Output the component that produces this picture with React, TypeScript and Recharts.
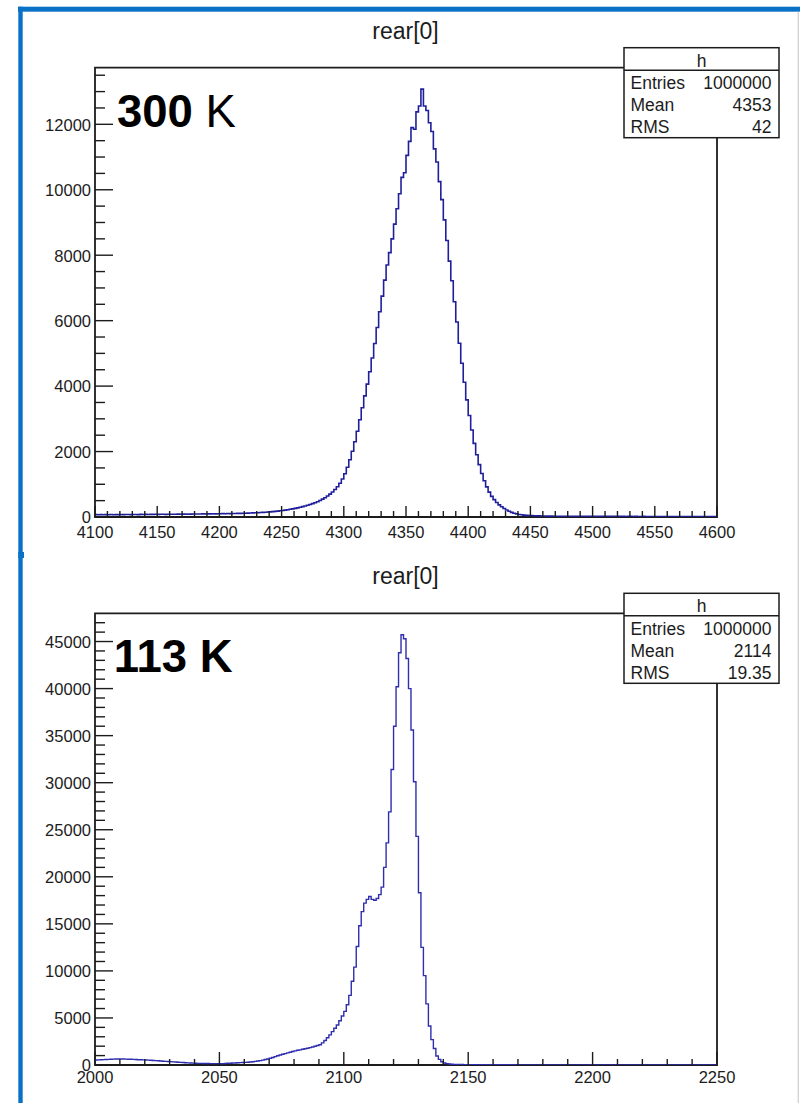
import React from 'react';
import { LineChart, Line, XAxis, YAxis, ReferenceArea } from 'recharts';

// ---- 300 K run: 250 bins of width 2 from 4100 to 4600 ----
const TOP_BIN_LOW = 4100;
const TOP_BIN_WIDTH = 2;
const TOP_COUNTS = [
  72, 68, 74, 70, 73, 69, 75, 71, 74, 72,
  76, 73, 77, 75, 72, 78, 76, 74, 79, 77,
  80, 78, 81, 79, 83, 80, 82, 84, 81, 85,
  83, 86, 84, 88, 85, 87, 90, 86, 89, 91,
  90, 93, 91, 95, 92, 96, 94, 98, 97, 99,
  100, 103, 101, 105, 104, 108, 107, 111, 110, 114,
  116, 119, 121, 125, 128, 132, 136, 141, 146, 152,
  158, 165, 172, 180, 189, 199, 210, 222, 235, 249,
  264, 280, 297, 316, 336, 358, 382, 408, 437, 468,
  505, 545, 590, 640, 700, 765, 840, 925, 1030, 1160,
  1320, 1520, 1750, 2010, 2300, 2620, 2970, 3340, 3700, 4060,
  4440, 4860, 5300, 5790, 6270, 6750, 7240, 7700, 8080, 8500,
  8950, 9420, 9880, 10380, 10520, 11050, 11480, 11900, 11850, 12380,
  12560, 13076, 12560, 12420, 12050, 11780, 11250, 10850, 10250, 9700,
  9080, 8450, 7820, 7220, 6580, 5960, 5310, 4700, 4120, 3580,
  3100, 2660, 2250, 1900, 1600, 1330, 1110, 920, 760, 630,
  530, 445, 370, 315, 262, 215, 175, 142, 115, 95,
  78, 67, 58, 51, 45, 41, 38, 35, 33, 31,
  30, 29, 27, 26, 25, 25, 24, 24, 23, 23,
  22, 22, 22, 21, 21, 21, 20, 21, 20, 20,
  19, 20, 19, 19, 20, 19, 18, 19, 19, 18,
  18, 19, 18, 17, 18, 18, 17, 18, 17, 17,
  18, 17, 16, 17, 17, 16, 17, 16, 16, 17,
  16, 15, 16, 16, 15, 16, 15, 15, 16, 15,
  14, 15, 15, 14, 15, 14, 14, 15, 14, 14,
];
const TOP_X_LABELS = [4100, 4150, 4200, 4250, 4300, 4350, 4400, 4450, 4500, 4550, 4600];
const TOP_Y_LABELS = [0, 2000, 4000, 6000, 8000, 10000, 12000];
const TOP_Y_MAX = 13730;

// ---- 113 K run: 250 bins of width 1 from 2000 to 2250 ----
const BOTTOM_BIN_LOW = 2000;
const BOTTOM_BIN_WIDTH = 1;
const BOTTOM_COUNTS = [
  530, 545, 560, 575, 590, 600, 610, 620, 630, 640,
  640, 635, 625, 615, 605, 595, 580, 565, 555, 540,
  530, 515, 500, 480, 465, 445, 425, 405, 390, 370,
  354, 335, 315, 295, 280, 260, 240, 225, 210, 195,
  180, 175, 170, 165, 160, 155, 150, 148, 145, 142,
  140, 150, 165, 180, 190, 205, 220, 235, 250, 265,
  280, 300, 320, 350, 385, 425, 470, 520, 580, 640,
  710, 800, 890, 980, 1060, 1135, 1210, 1290, 1360, 1430,
  1500, 1560, 1610, 1670, 1720, 1780, 1850, 1920, 2000, 2080,
  2150, 2350, 2600, 2900, 3200, 3550, 3900, 4250, 4700, 5200,
  5700, 6400, 7400, 8900, 10400, 12600, 14800, 16300, 17200, 17600,
  17900, 17600, 17500, 17700, 18100, 18900, 21000, 23600, 26900, 31400,
  36000, 40200, 43800, 45714, 45300, 43200, 40000, 35600, 30100, 24300,
  18300, 12500, 9500, 6500, 4150, 2700, 1750, 950, 600, 350,
  220, 150, 110, 85, 70, 60, 52, 46, 42, 38,
  35, 33, 31, 30, 28, 27, 26, 25, 24, 24,
  23, 22, 22, 21, 21, 20, 20, 19, 19, 18,
  18, 18, 17, 17, 17, 16, 16, 16, 15, 15,
  15, 14, 14, 14, 14, 13, 13, 13, 13, 12,
  12, 12, 12, 12, 11, 11, 11, 11, 11, 10,
  10, 10, 10, 10, 10, 9, 9, 9, 9, 9,
  9, 9, 8, 8, 8, 8, 8, 8, 8, 7,
  7, 7, 7, 7, 7, 7, 7, 6, 6, 6,
  6, 6, 6, 6, 6, 6, 5, 5, 5, 5,
  5, 5, 5, 5, 5, 5, 5, 4, 4, 4,
];
const BOTTOM_X_LABELS = [2000, 2050, 2100, 2150, 2200, 2250];
const BOTTOM_Y_LABELS = [0, 5000, 10000, 15000, 20000, 25000, 30000, 35000, 40000, 45000];
const BOTTOM_Y_MAX = 48000;

// Statistics box rows
const TOP_STATS: [string, string][] = [['Entries', '1000000'], ['Mean', '4353'], ['RMS', '42']];
const BOTTOM_STATS: [string, string][] = [['Entries', '1000000'], ['Mean', '2114'], ['RMS', '19.35']];

const FONT = '"Liberation Sans", Arial, Helvetica, sans-serif';
const INK = '#1c1c1c';
const FRAME_BLUE = '#0a72c6';

// Histogram outline: one point per bin low edge, plus the closing upper edge.
function stepPoints(low: number, width: number, counts: number[]) {
  const pts = counts.map((c, i) => ({ x: low + i * width, y: c }));
  pts.push({ x: low + counts.length * width, y: counts[counts.length - 1] });
  return pts;
}

function tickRange(from: number, to: number, step: number) {
  const out: number[] = [];
  for (let v = from; v <= to + 1e-9; v += step) out.push(Math.round(v * 1000) / 1000);
  return out;
}

function makeXTick(labels: number[], majorLen: number, minorLen: number, labelDy: number) {
  return (props: any) => {
    const { x, y, payload } = props;
    const v = payload.value;
    const major = labels.includes(v);
    return (
      <g>
        <line x1={x} y1={y} x2={x} y2={y - (major ? majorLen : minorLen)} stroke={INK} strokeWidth={1.4} />
        {major && (
          <text x={x} y={y + labelDy} textAnchor="middle" fontSize={16.5} fontFamily={FONT} fill={INK}>
            {v}
          </text>
        )}
      </g>
    );
  };
}

function makeYTick(labels: number[], majorLen: number, minorLen: number) {
  return (props: any) => {
    const { x, y, payload } = props;
    const v = payload.value;
    const major = labels.includes(v);
    return (
      <g>
        <line x1={x} y1={y} x2={x + (major ? majorLen : minorLen)} y2={y} stroke={INK} strokeWidth={1.4} />
        {major && (
          <text x={x - 4} y={y + 6.3} textAnchor="end" fontSize={16.5} fontFamily={FONT} fill={INK}>
            {v}
          </text>
        )}
      </g>
    );
  };
}

type PanelProps = {
  top: number;
  height: number;
  marginTop: number;
  marginBottom: number;
  data: { x: number; y: number }[];
  xDomain: [number, number];
  yMax: number;
  xTicks: number[];
  yTicks: number[];
  xLabels: number[];
  yLabels: number[];
  xMajorLen: number;
  xLabelDy: number;
  stroke: string;
  strokeWidth: number;
};

function Panel(p: PanelProps) {
  return (
    <div style={{ position: 'absolute', left: 0, top: p.top, width: 800, height: p.height }}>
      <LineChart
        width={800}
        height={p.height}
        data={p.data}
        margin={{ top: p.marginTop, right: 83, bottom: p.marginBottom, left: 35 }}
      >
        <XAxis
          dataKey="x"
          type="number"
          domain={p.xDomain}
          allowDataOverflow
          ticks={p.xTicks}
          interval={0}
          height={30}
          axisLine={false}
          tickLine={false}
          tickSize={0}
          tickMargin={0}
          tick={makeXTick(p.xLabels, p.xMajorLen, 6, p.xLabelDy)}
        />
        <YAxis
          type="number"
          domain={[0, p.yMax]}
          allowDataOverflow
          ticks={p.yTicks}
          interval={0}
          width={60}
          axisLine={false}
          tickLine={false}
          tickSize={0}
          tickMargin={0}
          tick={makeYTick(p.yLabels, 18, 10)}
        />
        <ReferenceArea
          x1={p.xDomain[0]}
          x2={p.xDomain[1]}
          y1={0}
          y2={p.yMax}
          fill="none"
          fillOpacity={0}
          stroke={INK}
          strokeWidth={1.8}
          ifOverflow="visible"
        />
        <Line
          type="stepAfter"
          dataKey="y"
          stroke={p.stroke}
          strokeWidth={p.strokeWidth}
          dot={false}
          activeDot={false}
          isAnimationActive={false}
        />
      </LineChart>
    </div>
  );
}

function StatsBox({ top, rows }: { top: number; rows: [string, string][] }) {
  const left = 624;
  const width = 155;
  const headH = 22.5;
  const rowH = 22;
  const height = headH + rowH * rows.length + 1.5;
  return (
    <g fontFamily={FONT} fontSize={17.5} fill={INK}>
      <rect x={left} y={top} width={width} height={height} fill="#fff" stroke={INK} strokeWidth={1.5} />
      <line x1={left} y1={top + headH} x2={left + width} y2={top + headH} stroke={INK} strokeWidth={1.5} />
      <text x={left + width / 2} y={top + 19} textAnchor="middle">h</text>
      {rows.map(([k, v], i) => (
        <g key={k}>
          <text x={left + 6.5} y={top + headH + 19 + i * rowH}>{k}</text>
          <text x={left + width - 7.5} y={top + headH + 19 + i * rowH} textAnchor="end">{v}</text>
        </g>
      ))}
    </g>
  );
}

export default function App() {
  const topData = stepPoints(TOP_BIN_LOW, TOP_BIN_WIDTH, TOP_COUNTS);
  const bottomData = stepPoints(BOTTOM_BIN_LOW, BOTTOM_BIN_WIDTH, BOTTOM_COUNTS);
  const topEnd = TOP_BIN_LOW + TOP_COUNTS.length * TOP_BIN_WIDTH;
  const bottomEnd = BOTTOM_BIN_LOW + BOTTOM_COUNTS.length * BOTTOM_BIN_WIDTH;

  return (
    <div
      style={{
        position: 'absolute',
        left: 0,
        top: 0,
        width: 800,
        height: 1103,
        overflow: 'hidden',
        background: '#fff',
      }}
    >
      <Panel
        top={0}
        height={560}
        marginTop={67.7}
        marginBottom={13}
        data={topData}
        xDomain={[TOP_BIN_LOW, topEnd]}
        yMax={TOP_Y_MAX}
        xTicks={tickRange(TOP_BIN_LOW, topEnd, 10)}
        yTicks={tickRange(0, 13500, 500)}
        xLabels={TOP_X_LABELS}
        yLabels={TOP_Y_LABELS}
        xMajorLen={11}
        xLabelDy={21.3}
        stroke="#1f1f9c"
        strokeWidth={1.6}
      />
      <Panel
        top={545}
        height={558}
        marginTop={68.3}
        marginBottom={8}
        data={bottomData}
        xDomain={[BOTTOM_BIN_LOW, bottomEnd]}
        yMax={BOTTOM_Y_MAX}
        xTicks={tickRange(BOTTOM_BIN_LOW, bottomEnd, 10)}
        yTicks={tickRange(0, 47000, 1000)}
        xLabels={BOTTOM_X_LABELS}
        yLabels={BOTTOM_Y_LABELS}
        xMajorLen={13}
        xLabelDy={18.3}
        stroke="#2e2eae"
        strokeWidth={1.4}
      />
      <svg
        width={800}
        height={1103}
        style={{ position: 'absolute', left: 0, top: 0, pointerEvents: 'none' }}
      >
        {/* page frame */}
        <rect x={18} y={6.7} width={782} height={5} fill={FRAME_BLUE} />
        <rect x={18.3} y={6.7} width={4.4} height={1097} fill={FRAME_BLUE} />
        <rect x={18.3} y={552} width={5.7} height={6} fill={FRAME_BLUE} />
        <rect x={797.6} y={11.7} width={1.4} height={1092} fill="#d4d4d4" />

        {/* titles */}
        <text x={405.5} y={38.5} textAnchor="middle" fontSize={23} fontFamily={FONT} fill={INK}>rear[0]</text>
        <text x={405.5} y={583.5} textAnchor="middle" fontSize={23} fontFamily={FONT} fill={INK}>rear[0]</text>

        {/* temperature labels */}
        <text x={117} y={126.7} fontSize={45.5} fontFamily={FONT} fill="#000">
          <tspan fontWeight="bold">300</tspan>
          <tspan> K</tspan>
        </text>
        <text x={113.7} y={671.7} fontSize={45.5} fontFamily={FONT} fontWeight="bold" fill="#000">113 K</text>

        <StatsBox top={47.7} rows={TOP_STATS} />
        <StatsBox top={593.3} rows={BOTTOM_STATS} />
      </svg>
    </div>
  );
}
